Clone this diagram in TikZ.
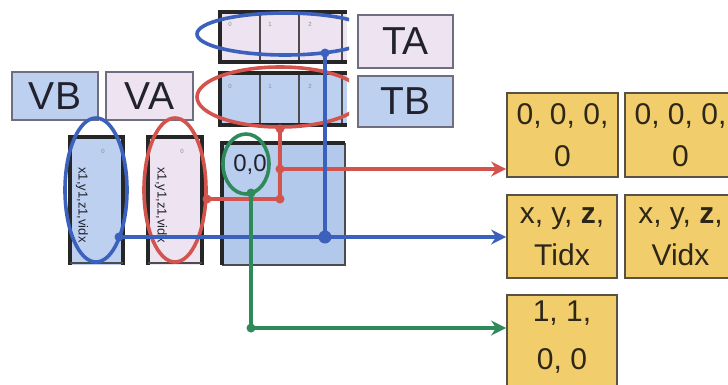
\documentclass[tikz,border=0pt]{standalone}
\usepackage{fontspec}
\setmainfont{Liberation Sans}
\usetikzlibrary{shapes.geometric,arrows.meta}
\definecolor{lblue}{HTML}{BDD0F0}
\definecolor{bigblue}{HTML}{B3C9EC}
\definecolor{lpink}{HTML}{EEE3F1}
\definecolor{cblue}{HTML}{3B61BD}
\definecolor{cred}{HTML}{D3534D}
\definecolor{cgreen}{HTML}{2F8A5A}
\definecolor{gold}{HTML}{F1CD6C}
\definecolor{lborder}{HTML}{6E6E80}
\definecolor{txt}{HTML}{22222E}
\definecolor{btxt}{HTML}{2E2718}
\tikzset{
  lbl/.style={draw=lborder, line width=1.6pt, inner sep=0pt, text=txt,
    font=\fontsize{39}{40}\selectfont},
  tgt/.style={draw=btxt!80, line width=1.8pt, fill=gold, inner sep=0pt,
    minimum width=110pt, minimum height=84pt},
  tgttext/.style={align=center, text=btxt, inner sep=0pt,
    font=\fontsize{30}{42}\selectfont},
  thickb/.style={line width=3.4pt, black!85},
  thinb/.style={line width=1.2pt, black!70},
  ring/.style={ellipse, line width=3.6pt, inner sep=0pt},
  conn/.style={line width=3.4pt},
  tip/.style={-{Stealth[length=15pt,width=15pt,inset=5pt]}},
  dot/.style={circle, inner sep=0pt, minimum size=9pt},
  tiny/.style={font=\fontsize{6}{6}\selectfont, text=black!45, inner sep=0pt},
  vtext/.style={font=\fontsize{13}{13}\selectfont, text=txt, rotate=-90, inner sep=0pt}
}
\begin{document}
\begin{tikzpicture}[x=1pt,y=-1pt]
\useasboundingbox (0,0) rectangle (728,384);
\fill[white] (0,0) rectangle (728,384);

% ---- labels
\node[lbl, fill=lblue, minimum width=86pt, minimum height=48pt] (VB) at (55,96) {VB};
\node[lbl, fill=lpink, minimum width=87pt, minimum height=48pt] (VA) at (149.5,96) {VA};
\node[lbl, fill=lpink, minimum width=95pt, minimum height=53pt] (TA) at (405.5,41.5) {TA};
\node[lbl, fill=lblue, minimum width=95pt, minimum height=51pt] (TB) at (405.5,101.5) {TB};

% ---- TA array
\fill[lpink] (220,12) rectangle (347,62);
\foreach \x in {260,299,342} \draw[thinb] (\x,12) -- (\x,62);
\draw[thickb] (347,12) -- (220,12) -- (220,62) -- (347,62);
\node[tiny] at (230,24) {0};
\node[tiny] at (270,24) {1};
\node[tiny] at (310,24) {2};
% ---- TB array
\fill[lblue] (220,73) rectangle (347,125);
\foreach \x in {260,299,342} \draw[thinb] (\x,73) -- (\x,125);
\draw[thickb] (347,73) -- (220,73) -- (220,125) -- (347,125);
\node[tiny] at (230,86) {0};
\node[tiny] at (270,86) {1};
\node[tiny] at (310,86) {2};

% ---- vertical arrays
\fill[lblue] (70,137) rectangle (123,265);
\draw[thickb] (70,265) -- (70,137) -- (123,137) -- (123,265);
\draw[thinb] (70,263) -- (123,263);
\node[tiny] at (103,151) {0};
\node[vtext] (vbt) at (82,205) {x1,y1,z1,vidx};
\fill[lpink] (148,137) rectangle (202,265);
\draw[thickb] (148,265) -- (148,137) -- (202,137) -- (202,265);
\draw[thinb] (148,263) -- (202,263);
\node[tiny] at (182,151) {0};
\node[vtext] (vat) at (161,205) {x1,y1,z1,vidx};

% ---- big grid box
\fill[bigblue] (222,143) rectangle (345,265);
\fill[lblue!60!bigblue] (222,143) rectangle (277,199);
\draw[thinb] (222,265) -- (345,265) -- (345,143);
\draw[thickb] (345,143) -- (222,143) -- (222,265);
\node[text=txt, inner sep=0pt, font=\fontsize{24}{24}\selectfont] (cell) at (250,165) {0,0};

% ---- target boxes
\node[tgt, minimum width=111pt] (T1) at (562.5,135) {};
\node[tgttext] at (T1) {0, 0, 0,\\0};
\node[tgt, minimum width=111pt] (T2) at (680.5,135) {};
\node[tgttext] at (T2) {0, 0, 0,\\0};
\node[tgt, minimum height=83pt] (T3) at (562,236.5) {};
\node[tgttext] at (T3) {x, y, \textbf{z},\\Tidx};
\node[tgt, minimum width=111pt, minimum height=83pt] (T4) at (680.5,236.5) {};
\node[tgttext] at (T4) {x, y, \textbf{z},\\Vidx};
\node[tgt, minimum height=95pt] (T5) at (562,342.5) {};
\node[tgttext, font=\fontsize{30}{48}\selectfont] at (562,337) {1, 1,\\0, 0};

% ---- rings
\begin{scope}
\clip (0,0) rectangle (349,384);
\node[ring, draw=cblue, minimum width=176pt, minimum height=42pt] (TAell) at (285,34) {};
\node[ring, draw=cred, minimum width=166pt, minimum height=60pt] (TBell) at (280,97) {};
\end{scope}
\node[ring, draw=cblue, minimum width=62pt, minimum height=144pt] (VBell) at (96,190) {};
\node[ring, draw=cred, minimum width=62pt, minimum height=144pt] (VAell) at (175,190) {};
\node[ring, draw=cgreen, minimum width=46pt, minimum height=60pt] (Cell) at (246,164) {};

% ---- junction coordinates
\coordinate (bTop) at (325,53);
\coordinate (bJ) at (325,237);
\coordinate (bStart) at (119,237);
\coordinate (rTop) at (TBell.south);
\coordinate (rJ) at (rTop |- 0,199);
\coordinate (rMid) at (rTop |- 0,169);
\coordinate (rLeft) at (207,199);
\coordinate (gTop) at (251,193);
\coordinate (gJ) at (251,328);

% ---- connectors
\draw[conn, cred] (rTop) -- (rJ) -- (rLeft);
\draw[conn, cred, tip] (rMid) -- (rMid -| T1.west);
\draw[conn, cblue] (bTop) -- (bJ);
\draw[conn, cblue, tip] (bStart) -- (bStart -| T3.west);
\draw[conn, cgreen] (gTop) -- (gJ);
\draw[conn, cgreen, tip] (gJ) -- (gJ -| T5.west);

% ---- dots
\node[dot, fill=cred] at (rTop) {};
\node[dot, fill=cred] at (rJ) {};
\node[dot, fill=cred] at (rMid) {};
\node[dot, fill=cred] at (rLeft) {};
\node[dot, fill=cblue] at (bTop) {};
\node[dot, fill=cblue, minimum size=13pt] at (bJ) {};
\node[dot, fill=cblue] at (bStart) {};
\node[dot, fill=cgreen] at (gTop) {};
\node[dot, fill=cgreen] at (gJ) {};
\end{tikzpicture}
\end{document}
